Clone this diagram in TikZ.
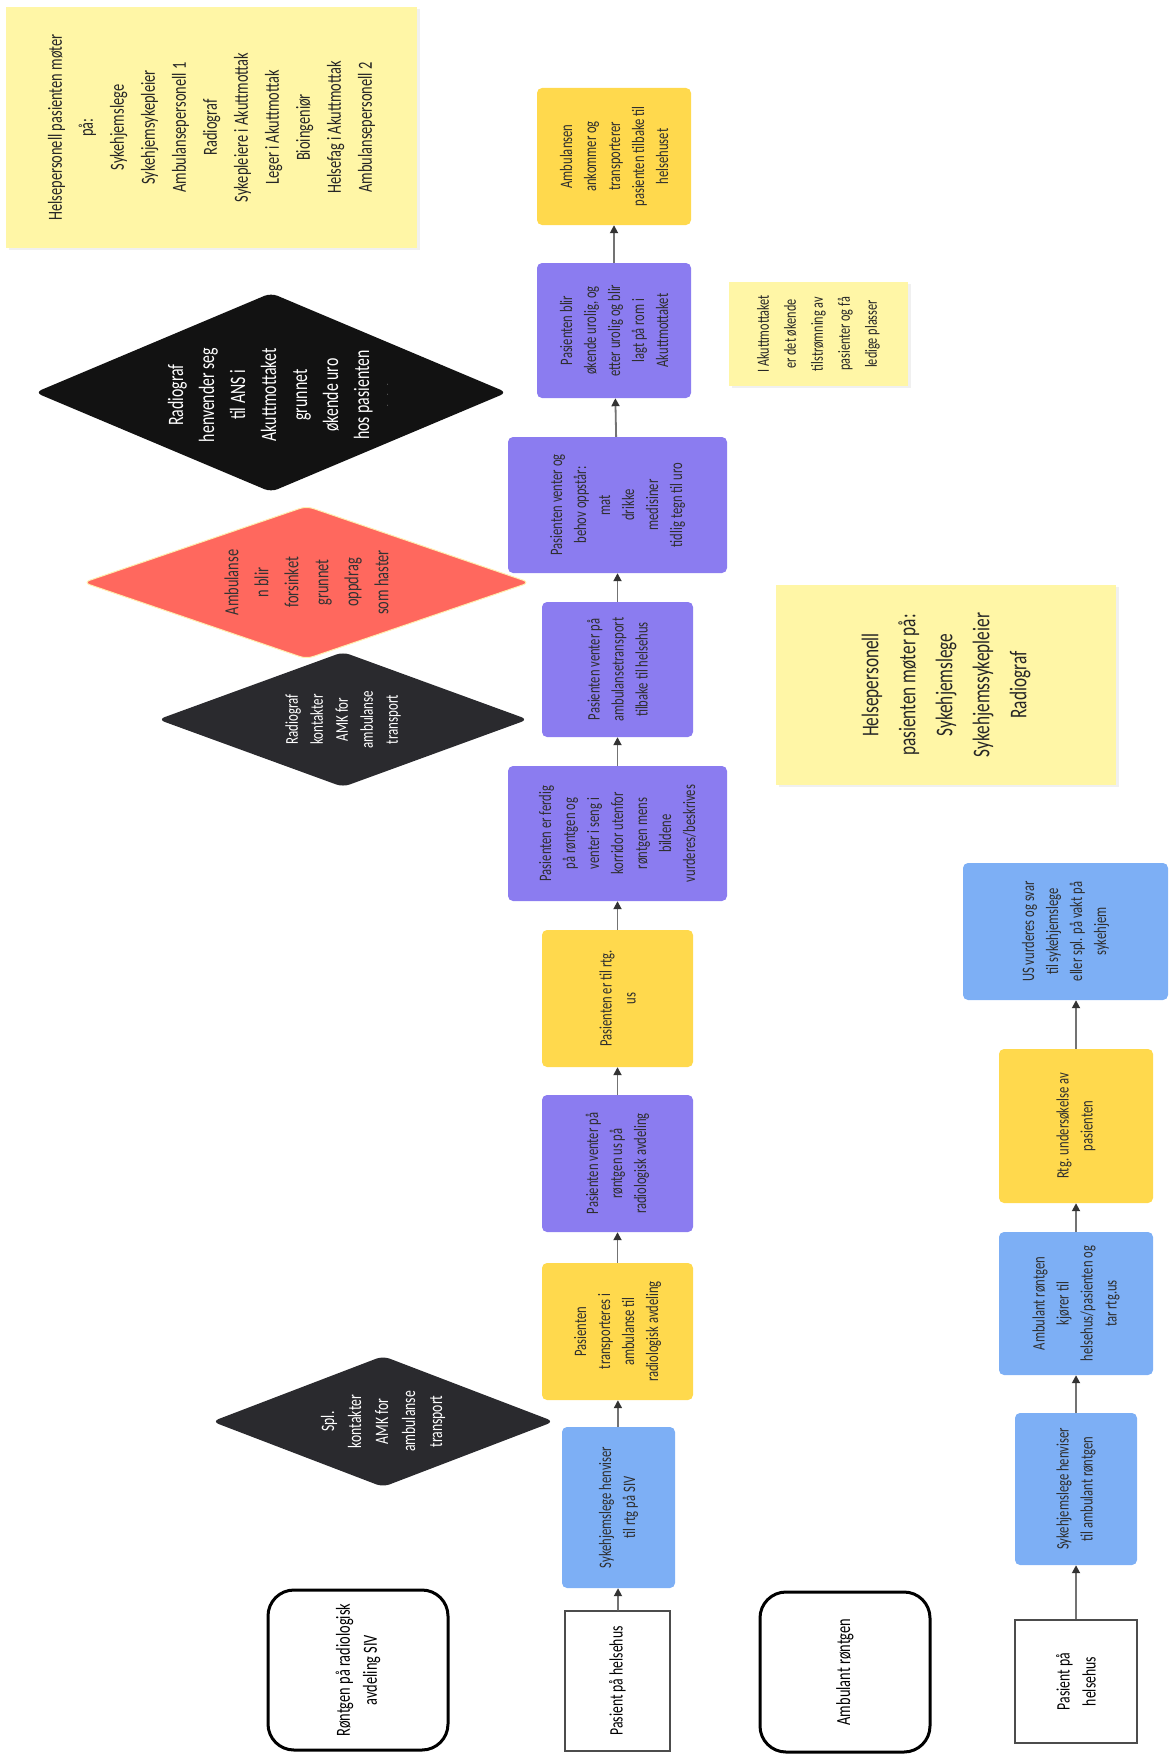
\documentclass[tikz,border=0pt]{standalone}
\usepackage{fontspec}
\setmainfont{Carlito}[FakeStretch=0.72]
\usetikzlibrary{shapes.geometric,arrows.meta,shadows}
\definecolor{lilla}{RGB}{139,124,240}
\definecolor{gul}{RGB}{255,217,77}
\definecolor{blaa}{RGB}{125,175,245}
\definecolor{lappgul}{RGB}{255,246,166}
\definecolor{rosa}{RGB}{255,104,94}
\definecolor{svart}{RGB}{18,18,18}
\definecolor{grafitt}{RGB}{42,42,46}
\definecolor{pilgraa}{RGB}{115,115,115}

\begin{document}
\begin{tikzpicture}[x=1pt,y=-1pt,
  boks/.style={rectangle,rounded corners=5pt,rotate=90,align=center,inner sep=3pt,text=black!82,font=\fontsize{17.5}{24}\selectfont},
  lillaboks/.style={boks,fill=lilla},
  gulboks/.style={boks,fill=gul},
  blaaboks/.style={boks,fill=blaa},
  hvit/.style={rectangle,rotate=90,align=center,draw=black!70,line width=1.5pt,fill=white,font=\fontsize{19}{26}\selectfont},
  felt/.style={rectangle,rounded corners=26pt,rotate=90,align=center,draw=black,line width=3pt,font=\fontsize{20}{27}\selectfont},
  lapp/.style={rectangle,rotate=90,align=center,fill=lappgul,text=black!85,drop shadow={shadow xshift=3pt,shadow yshift=-2pt,opacity=.12}},
  rute/.style={diamond,rounded corners=7pt,inner sep=0pt},
  rutetekst/.style={rotate=90,align=center,text=white},
  pil/.style={-{Triangle[length=8pt,width=8pt,color=black!80]},line width=1.8pt,draw=pilgraa}
]
\useasboundingbox (0,0) rectangle (1169,1758);

\node[lapp,minimum width=241pt,minimum height=411pt,font=\fontsize{20}{31}\selectfont] (lapp1) at (211.5,127.5)
  {Helsepersonell pasienten møter\\på:\\Sykehjemslege\\Sykehjemsykepleier\\Ambulansepersonell 1\\Radiograf\\Sykepleiere i Akuttmottak\\Leger i Akuttmottak\\Bioingeniør\\Helsefag i Akuttmottak\\Ambulansepersonell 2};
\node[lapp,minimum width=104pt,minimum height=179pt,font=\fontsize{17}{27}\selectfont] (lapp2) at (818.5,334)
  {I Akuttmottaket\\er det økende\\tilstrømning av\\pasienter og få\\ledige plasser};
\node[lapp,minimum width=200pt,minimum height=340pt,font=\fontsize{24}{37}\selectfont] (lapp3) at (946,685)
  {Helsepersonell\\pasienten møter på:\\Sykehjemslege\\Sykehjemssykepleier\\Radiograf};

\node[rute,fill=svart,minimum width=472pt,minimum height=199pt] (ans) at (271,392.5) {};
\node[rutetekst,font=\fontsize{22}{31}\selectfont] (ansT) at (278,395)
  {Radiograf\\henvender seg\\til ANS i\\Akuttmottaket\\grunnet\\økende uro\\hos pasienten\\[-12pt]{\color{white!55!black}\fontsize{9}{9}\selectfont .\quad .\quad .}};
\node[rute,fill=rosa,draw=gul!45,line width=1pt,minimum width=447pt,minimum height=153pt] (forsinket) at (306.5,582.5) {};
\node[rutetekst,text=black!80,font=\fontsize{20}{30}\selectfont] (forsinketT) at (forsinket)
  {Ambulanse\\n blir\\forsinket\\grunnet\\oppdrag\\som haster};
\node[rute,fill=grafitt,minimum width=370pt,minimum height=135pt] (amk) at (343,719.5) {};
\node[rutetekst,font=\fontsize{18}{25}\selectfont] (amkT) at (amk)
  {Radiograf\\kontakter\\AMK for\\ambulanse\\transport};
\node[rute,fill=grafitt,minimum width=342pt,minimum height=131pt] (spl) at (383,1421.5) {};
\node[rutetekst,font=\fontsize{19}{27}\selectfont] (splT) at (spl)
  {Spl.\\kontakter\\AMK for\\ambulanse\\transport};

\node[felt,minimum width=160pt,minimum height=180pt] (felt1) at (358,1670) {Røntgen på radiologisk\\avdeling SIV};
\node[felt,minimum width=160pt,minimum height=170pt] (felt2) at (845,1672) {Ambulant røntgen};

\node[hvit,minimum width=140pt,minimum height=105pt] (pas1) at (617.5,1681) {Pasient på helsehus};
\node[blaaboks,minimum width=161pt,minimum height=113pt] (henv1) at (618.5,1507.5) {Sykehjemslege henviser\\til rtg på SIV};
\node[gulboks,minimum width=137pt,minimum height=151pt] (trans) at (617.5,1331.5) {Pasienten\\transporteres i\\ambulanse til\\radiologisk avdeling};
\node[lillaboks,minimum width=137pt,minimum height=151pt] (ventus) at (617.5,1163.5) {Pasienten venter på\\røntgen us på\\radiologisk avdeling};
\node[gulboks,minimum width=137pt,minimum height=151pt] (tilrtg) at (617.5,998.5) {Pasienten er til rtg.\\us};
\node[lillaboks,minimum width=135pt,minimum height=219pt] (ferdig) at (617.5,833.5) {Pasienten er ferdig\\på røntgen og\\venter i seng i\\korridor utenfor\\røntgen mens\\bildene\\vurderes/beskrives};
\node[lillaboks,minimum width=135pt,minimum height=151pt] (ventamb) at (617.5,669.5) {Pasienten venter på\\ambulansetransport\\tilbake til helsehus};
\node[lillaboks,minimum width=136pt,minimum height=219pt] (behov) at (617.5,505) {Pasienten venter og\\behov oppstår:\\mat\\drikke\\medisiner\\tidlig tegn til uro};
\node[lillaboks,minimum width=135pt,minimum height=154pt] (urolig) at (614,330.5) {Pasienten blir\\økende urolig, og\\etter urolig og blir\\lagt på rom i\\Akuttmottaket};
\node[gulboks,minimum width=137pt,minimum height=154pt] (ankom) at (614,156.5) {Ambulansen\\ankommer og\\transporterer\\pasienten tilbake til\\helsehuset};

\node[hvit,minimum width=123pt,minimum height=122pt] (pas2) at (1076,1681.5) {Pasient på\\helsehus};
\node[blaaboks,minimum width=152pt,minimum height=122pt] (henv2) at (1076,1489) {Sykehjemslege henviser\\til ambulant røntgen};
\node[blaaboks,minimum width=143pt,minimum height=154pt] (kjorer) at (1076,1303.5) {Ambulant røntgen\\kjører til\\helsehus/pasienten og\\tar rtg.us};
\node[gulboks,minimum width=154pt,minimum height=154pt] (rtgus) at (1076,1126) {Rtg. undersøkelse av\\pasienten};
\node[blaaboks,minimum width=137pt,minimum height=205pt] (svar) at (1065.5,931.5) {US vurderes og svar\\til sykehjemslege\\eller spl. på vakt på\\sykehjem};

\draw[pil] (pas1) -- (henv1);
\draw[pil] (henv1) -- (trans);
\draw[pil] (trans) -- (ventus);
\draw[pil] (ventus) -- (tilrtg);
\draw[pil] (tilrtg) -- (ferdig);
\draw[pil] (ferdig) -- (ventamb);
\draw[pil] (ventamb) -- (behov);
\draw[pil] (behov) -- (urolig);
\draw[pil] (urolig) -- (ankom);

\draw[pil] (pas2) -- (henv2);
\draw[pil] (henv2) -- (kjorer);
\draw[pil] (kjorer) -- (rtgus);
\draw[pil] (rtgus.east) -- (rtgus.east |- svar.west);
\end{tikzpicture}
\end{document}
